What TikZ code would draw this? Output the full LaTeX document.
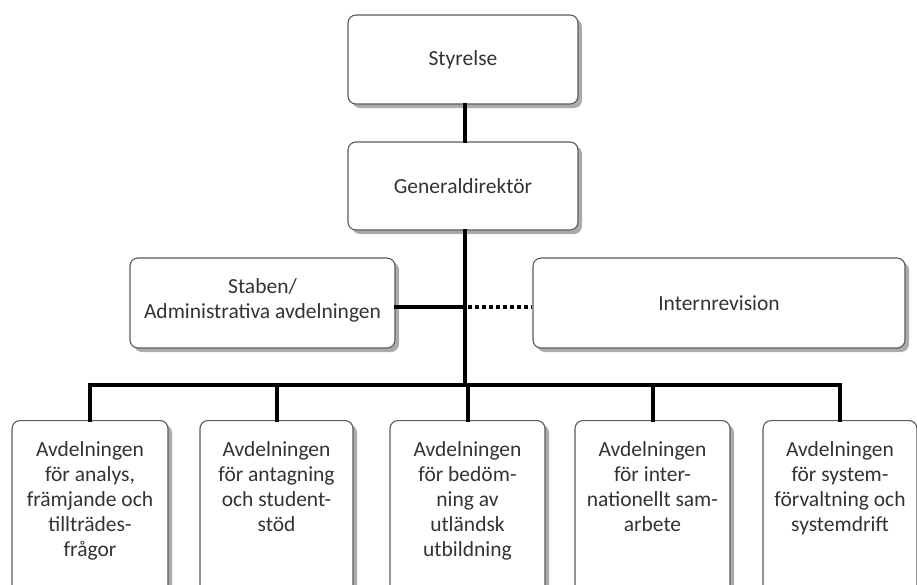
\documentclass[tikz,border=0pt]{standalone}
\usepackage{fontspec}
\setmainfont{Carlito}
\usetikzlibrary{shadows,calc}
\definecolor{txt}{HTML}{333333}
\definecolor{bord}{HTML}{5A5A5A}
\begin{document}
\begin{tikzpicture}[x=1pt,y=-1pt,
  box/.style={draw=bord,line width=1.1pt,fill=white,rounded corners=8pt,
    rectangle,inner sep=0pt,
    drop shadow={shadow xshift=4pt,shadow yshift=-4pt,fill=black!55,opacity=.6}},
  lbl/.style={text=txt,align=center,font=\fontsize{21.5}{25}\selectfont,inner sep=0pt},
  conn/.style={line width=4pt,black,line cap=rect},
  dot/.style={line width=4pt,black,dash pattern=on 4pt off 3pt}]
\useasboundingbox (0,0) rectangle (917,584);
% top boxes
\node[box,minimum width=230pt,minimum height=89pt] (sty) at (463,59.5) {};
\node[lbl] (stylbl) at (sty.center) {Styrelse};
\node[box,minimum width=230pt,minimum height=88pt] (gd) at (463,186) {};
\node[lbl] (gdlbl) at (gd.center) {Generaldirektör};
\node[box,minimum width=265pt,minimum height=90pt] (stab) at (262.5,303) {};
\node[lbl] (stablbl) at ($(stab.center)+(0,-3)$) {Staben/\\Administrativa avdelningen};
\node[box,minimum width=372pt,minimum height=90pt] (int) at (719,303) {};
\node[lbl] (intlbl) at (int.center) {Internrevision};
% bottom boxes
\foreach \n/\x/\w in {b1/90/156, b2/276.5/153, b3/467.5/155, b4/652.5/155, b5/840/154}{
  \node[box,minimum width=\w pt,minimum height=185pt,anchor=north] (\n) at (\x,420) {};
}
\node[lbl,anchor=north] (t1) at ($(b1.north)+(0,21)$) {Avdelningen\\för analys,\\främjande och\\tillträdes-\\frågor};
\node[lbl,anchor=north] (t2) at ($(b2.north)+(0,21)$) {Avdelningen\\för antagning\\och student-\\stöd};
\node[lbl,anchor=north] (t3) at ($(b3.north)+(0,21)$) {Avdelningen\\för bedöm-\\ning av\\utländsk\\utbildning};
\node[lbl,anchor=north] (t4) at ($(b4.north)+(0,21)$) {Avdelningen\\för inter-\\nationellt sam-\\arbete};
\node[lbl,anchor=north] (t5) at ($(b5.north)+(0,21)$) {Avdelningen\\för system-\\förvaltning och\\systemdrift};
% connectors
\coordinate (j) at (465,307);
\coordinate (hub) at (465,385);
\draw[conn] ([xshift=2pt]sty.south) -- ([xshift=2pt]gd.north);
\draw[conn] ([xshift=2pt]gd.south) -- (hub);
\draw[conn] (stab.east |- j) -- (j);
\draw[dot] ([xshift=3pt]j) -- (int.west |- j);
\draw[conn] (b1.north) -- (b1.north |- hub) -- (b5.north |- hub) -- (b5.north);
\draw[conn] (b2.north) -- (b2.north |- hub);
\draw[conn] (b3.north) -- (b3.north |- hub);
\draw[conn] (b4.north) -- (b4.north |- hub);
\end{tikzpicture}
\end{document}
